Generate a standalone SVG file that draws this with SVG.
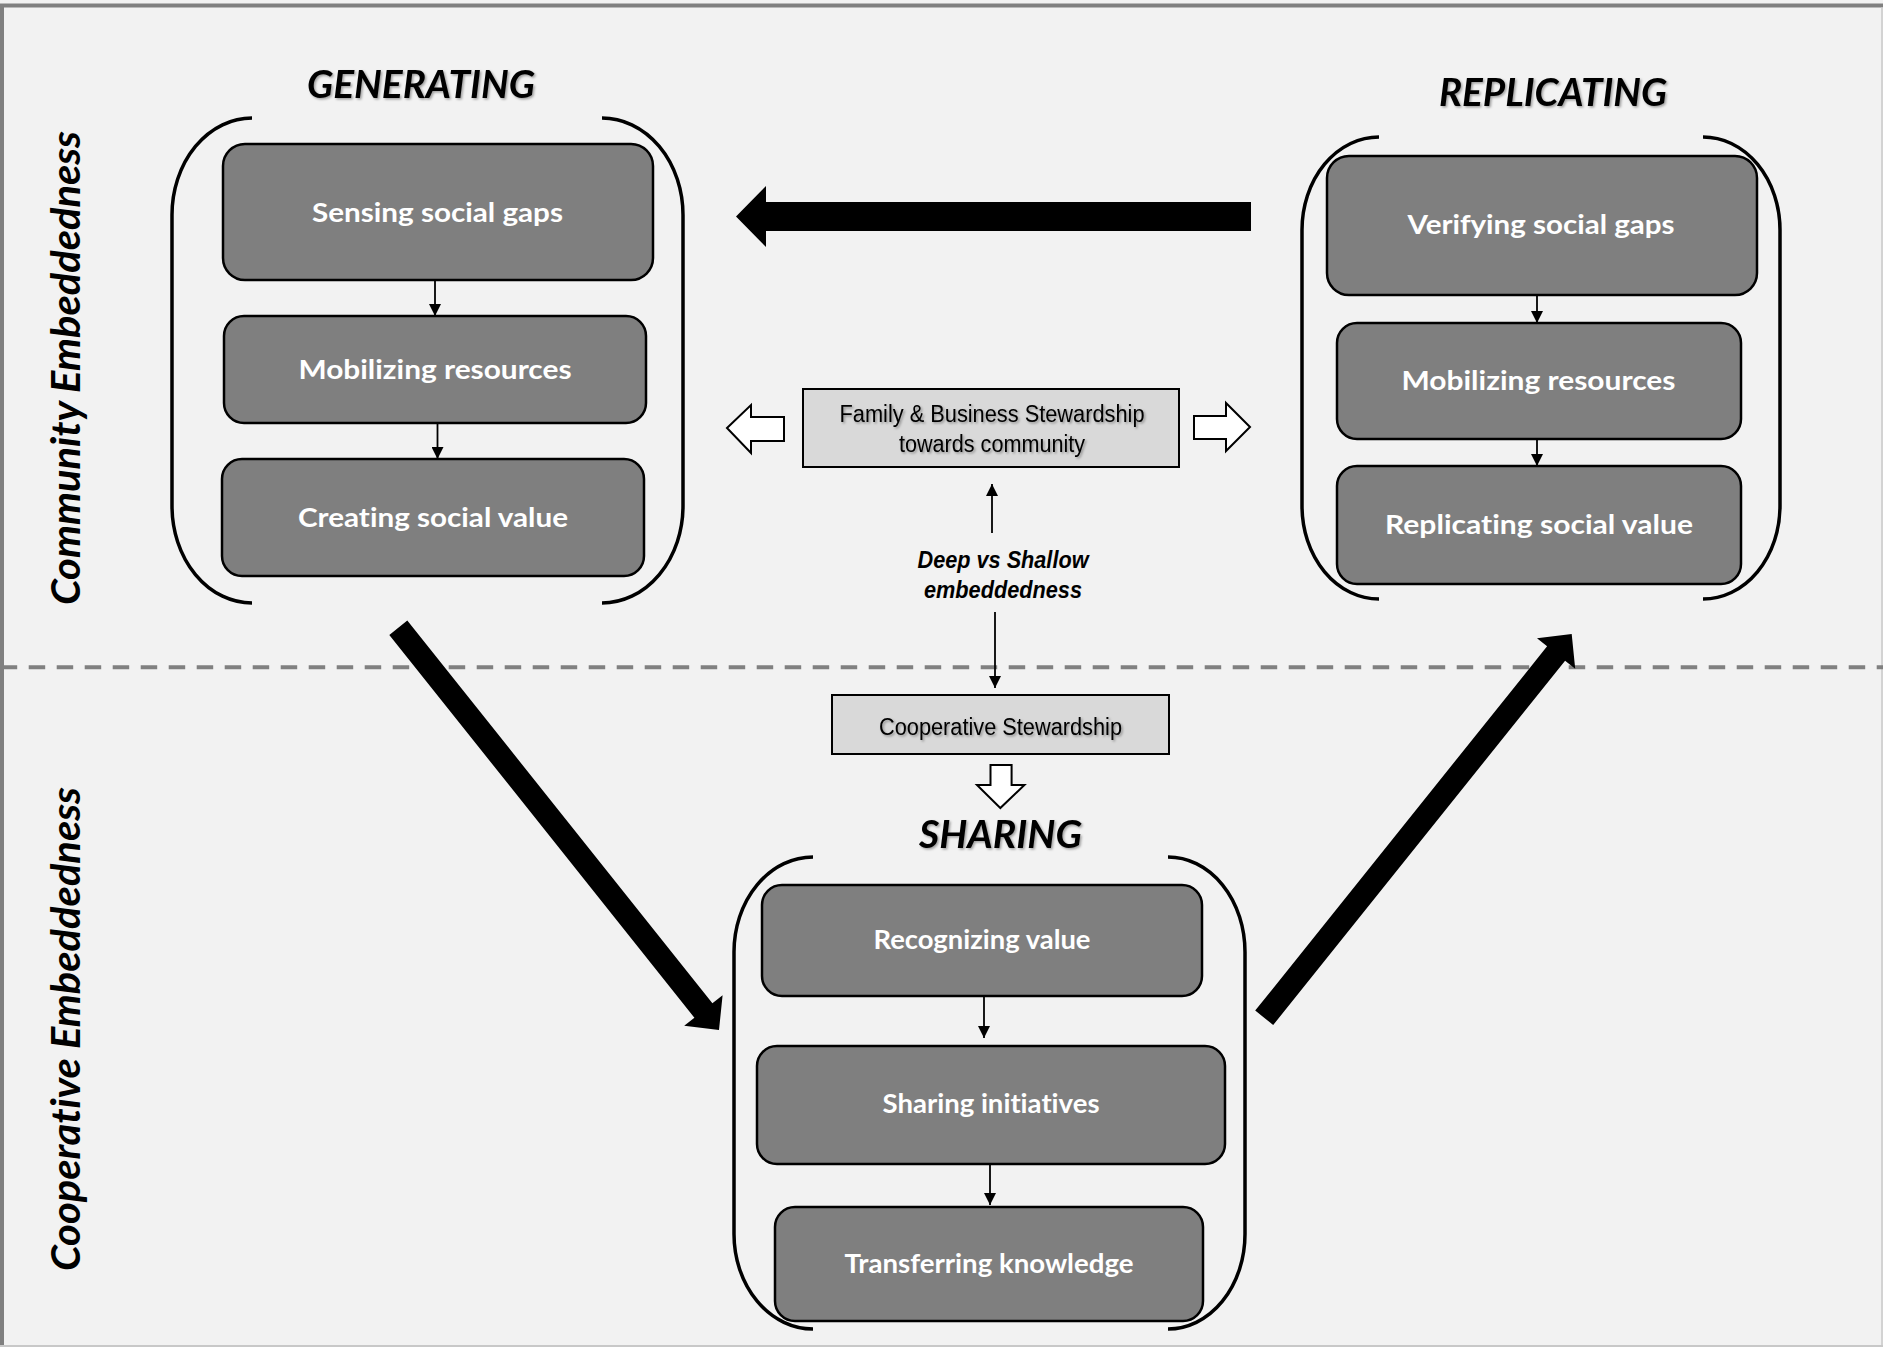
<svg xmlns="http://www.w3.org/2000/svg" width="1883" height="1347" viewBox="0 0 1883 1347">
<defs>
<style>
.bg{fill:#f2f2f2}
.step{fill:#7f7f7f;stroke:#000;stroke-width:2.5}
.stew{fill:#d9d9d9;stroke:#000;stroke-width:2}
.br{fill:none;stroke:#000;stroke-width:3.5}
text{font-variant-ligatures:none}
.st{font-family:Lato,"Open Sans","Liberation Sans",sans-serif;font-weight:bold;font-size:26px;fill:#fff;text-anchor:middle}
.ttl{font-family:Lato,"Open Sans","Liberation Sans",sans-serif;font-weight:bold;font-style:italic;font-size:38px;fill:#000;text-anchor:middle}
.side{font-family:Lato,"Open Sans","Liberation Sans",sans-serif;font-weight:bold;font-style:italic;font-size:40px;fill:#000;text-anchor:middle}
.nar{font-family:"Liberation Sans Narrow","Liberation Sans",Arial,sans-serif;font-size:23px;fill:#000;text-anchor:middle}
.nari{font-family:"Liberation Sans Narrow","Liberation Sans",Arial,sans-serif;font-size:24px;font-weight:bold;font-style:italic;fill:#000;text-anchor:middle}
.thin{stroke:#000;stroke-width:1.8;fill:none}
.hollow{fill:#fff;stroke:#000;stroke-width:2}
.big{fill:#000}
</style>
<marker id="ah" viewBox="0 0 10 10" refX="10" refY="5" markerWidth="12" markerHeight="12" markerUnits="userSpaceOnUse" orient="auto">
<path d="M0,0 L10,5 L0,10 z" fill="#000"/>
</marker>
<filter id="sh" x="-10%" y="-20%" width="120%" height="140%">
<feDropShadow dx="1.5" dy="1.5" stdDeviation="1" flood-color="#000" flood-opacity="0.35"/>
</filter>
</defs>

<rect class="bg" x="0" y="0" width="1883" height="1347"/>
<g id="frame">
<line x1="0" y1="5.5" x2="1883" y2="5.5" stroke="#808080" stroke-width="4"/>
<line x1="2" y1="4" x2="2" y2="1347" stroke="#808080" stroke-width="4"/>
<line x1="1882" y1="7" x2="1882" y2="1347" stroke="#c8c8c8" stroke-width="1.5"/>
<line x1="0" y1="1346" x2="1883" y2="1346" stroke="#c8c8c8" stroke-width="2"/>
<line x1="0.7" y1="667.3" x2="1883" y2="667.3" stroke="#808080" stroke-width="4" stroke-dasharray="16.5 11.5"/>
</g>

<g id="label-community">
<text class="side" transform="translate(80,368) rotate(-90)" textLength="474" lengthAdjust="spacingAndGlyphs">Community Embeddedness</text>
</g>
<g id="label-cooperative">
<text class="side" transform="translate(80,1029) rotate(-90)" textLength="484" lengthAdjust="spacingAndGlyphs">Cooperative Embeddedness</text>
</g>

<g id="generating">
<text class="ttl" x="421" y="98" textLength="228" lengthAdjust="spacingAndGlyphs" filter="url(#sh)">GENERATING</text>
<path class="br" d="M252,118 A80,97 0 0 0 172,215 L172,506 A80,97 0 0 0 252,603"/>
<path class="br" d="M602,118 A81,97 0 0 1 683,215 L683,506 A81,97 0 0 1 602,603"/>
</g>
<g id="sensing">
<rect class="step" x="223" y="144" width="430" height="136" rx="22"/>
<text class="st" x="437.5" y="222" textLength="251" lengthAdjust="spacingAndGlyphs">Sensing social gaps</text>
</g>
<g id="mobilizing-gen">
<rect class="step" x="224" y="316" width="422" height="107" rx="20"/>
<text class="st" x="435" y="379" textLength="273" lengthAdjust="spacingAndGlyphs">Mobilizing resources</text>
</g>
<g id="creating">
<rect class="step" x="222" y="459" width="422" height="117" rx="20"/>
<text class="st" x="433" y="527" textLength="270" lengthAdjust="spacingAndGlyphs">Creating social value</text>
</g>

<g id="replicating">
<text class="ttl" x="1553" y="106" textLength="228" lengthAdjust="spacingAndGlyphs" filter="url(#sh)">REPLICATING</text>
<path class="br" d="M1379,137 A77,93 0 0 0 1302,230 L1302,506 A77,93 0 0 0 1379,599"/>
<path class="br" d="M1703,137 A77,93 0 0 1 1780,230 L1780,506 A77,93 0 0 1 1703,599"/>
</g>
<g id="verifying">
<rect class="step" x="1327" y="156" width="430" height="139" rx="22"/>
<text class="st" x="1541" y="234" textLength="267" lengthAdjust="spacingAndGlyphs">Verifying social gaps</text>
</g>
<g id="mobilizing-rep">
<rect class="step" x="1337" y="323" width="404" height="116" rx="20"/>
<text class="st" x="1538.5" y="390" textLength="274" lengthAdjust="spacingAndGlyphs">Mobilizing resources</text>
</g>
<g id="replicating-value">
<rect class="step" x="1337" y="466" width="404" height="118" rx="20"/>
<text class="st" x="1539" y="534" textLength="308" lengthAdjust="spacingAndGlyphs">Replicating social value</text>
</g>

<g id="family-stewardship">
<rect class="stew" x="803" y="389" width="376" height="78"/>
<text class="nar" x="992" y="421.5" textLength="305" lengthAdjust="spacingAndGlyphs" filter="url(#sh)">Family &amp; Business Stewardship</text>
<text class="nar" x="992" y="451.5" textLength="186" lengthAdjust="spacingAndGlyphs" filter="url(#sh)">towards community</text>
</g>
<g id="deep-shallow">
<text class="nari" x="1003" y="568" textLength="171" lengthAdjust="spacingAndGlyphs">Deep vs Shallow</text>
<text class="nari" x="1003" y="598" textLength="158" lengthAdjust="spacingAndGlyphs">embeddedness</text>
</g>
<g id="cooperative-stewardship">
<rect class="stew" x="832" y="695" width="337" height="59"/>
<text class="nar" x="1000.5" y="734.5" textLength="243" lengthAdjust="spacingAndGlyphs" filter="url(#sh)">Cooperative Stewardship</text>
</g>

<g id="sharing">
<text class="ttl" x="1000.5" y="848" textLength="163" lengthAdjust="spacingAndGlyphs" filter="url(#sh)">SHARING</text>
<path class="br" d="M813,857 A79,95 0 0 0 734,952 L734,1234 A79,95 0 0 0 813,1329"/>
<path class="br" d="M1168,857 A77,95 0 0 1 1245,952 L1245,1234 A77,95 0 0 1 1168,1329"/>
</g>
<g id="recognizing">
<rect class="step" x="762" y="885" width="440" height="111" rx="20"/>
<text class="st" x="982" y="949" textLength="217" lengthAdjust="spacingAndGlyphs">Recognizing value</text>
</g>
<g id="sharing-initiatives">
<rect class="step" x="757" y="1046" width="468" height="118" rx="20"/>
<text class="st" x="991" y="1113" textLength="217" lengthAdjust="spacingAndGlyphs">Sharing initiatives</text>
</g>
<g id="transferring">
<rect class="step" x="775" y="1207" width="428" height="114" rx="20"/>
<text class="st" x="989" y="1273" textLength="289" lengthAdjust="spacingAndGlyphs">Transferring knowledge</text>
</g>

<g id="connectors">
<line class="thin" x1="435" y1="281" x2="435" y2="316" marker-end="url(#ah)"/>
<line class="thin" x1="437.5" y1="424" x2="437.5" y2="459" marker-end="url(#ah)"/>
<line class="thin" x1="1537" y1="296" x2="1537" y2="323" marker-end="url(#ah)"/>
<line class="thin" x1="1537" y1="440" x2="1537" y2="466" marker-end="url(#ah)"/>
<line class="thin" x1="984" y1="997" x2="984" y2="1038" marker-end="url(#ah)"/>
<line class="thin" x1="990" y1="1165" x2="990" y2="1205" marker-end="url(#ah)"/>
<line class="thin" x1="992" y1="533" x2="992" y2="484" marker-end="url(#ah)"/>
<line class="thin" x1="995" y1="612" x2="995" y2="688" marker-end="url(#ah)"/>
<polygon class="hollow" points="727,428 751,405 751,417 784,417 784,441 751,441 751,453"/>
<polygon class="hollow" points="1250,427 1226,403 1226,416 1194,416 1194,439 1226,439 1226,451"/>
<polygon class="hollow" points="1000.3,808 977,785 990.5,785 990.5,765 1011.6,765 1011.6,785 1024.4,785"/>
<polygon class="big" points="1251,202 766,202 766,186 736,216.5 766,247 766,231 1251,231"/>
<polygon class="big" points="407.3,620.5 712.4,1003.3 722.6,995.2 719,1030 684.2,1025.8 694.4,1017.7 389.3,634.9"/>
<polygon class="big" points="1255.2,1010.6 1547.1,646.3 1537,638.2 1571.7,634 1575.2,668.8 1565.1,660.7 1273.2,1025"/>
</g>
</svg>
